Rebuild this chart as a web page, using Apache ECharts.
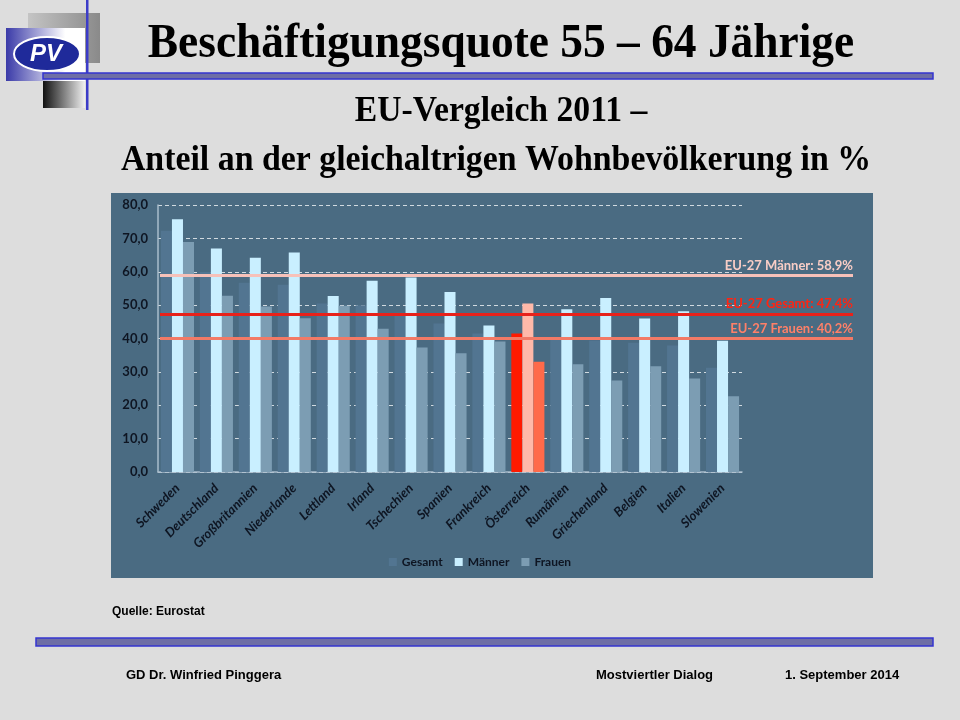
<!DOCTYPE html>
<html>
<head>
<meta charset="utf-8">
<script src="https://cdn.jsdelivr.net/npm/echarts@6/dist/echarts.min.js"></script>
<style>
html,body{margin:0;padding:0;background:#dddddd;}
#c{width:960px;height:720px;}
</style>
</head>
<body>
<div id="c"></div>
<script>
const categories = ['Schweden','Deutschland','Großbritannien','Niederlande','Lettland','Irland','Tschechien','Spanien','Frankreich','Österreich','Rumänien','Griechenland','Belgien','Italien','Slowenien'];
const gesamt = [72.3, 59.9, 56.7, 56.1, 50.5, 50.0, 47.7, 44.5, 41.5, 41.5, 40.0, 39.4, 38.7, 37.9, 31.2];
const maenner = [75.7, 67.0, 64.2, 65.8, 52.7, 57.3, 58.3, 53.9, 43.9, 50.5, 48.8, 52.1, 46.0, 48.2, 39.3];
const frauen = [68.9, 52.8, 49.6, 46.1, 49.8, 42.9, 37.3, 35.6, 39.1, 33.0, 32.3, 27.4, 31.7, 28.0, 22.7];
const euMaenner = 58.9;
const euGesamt = 47.4;
const euFrauen = 40.2;
const yTicks = [0, 10, 20, 30, 40, 50, 60, 70, 80];
const highlight = 'Österreich';

const cGes = '#527591', cMan = '#c9efff', cFra = '#7c9db3';
const hGes = '#ff1a00', hMan = '#ffb9a9', hFra = '#ff6a4a';

function mk(arr, normal, hi) {
  return arr.map((v, i) => categories[i] === highlight ? {value: v, itemStyle: {color: hi}} : {value: v, itemStyle: {color: normal}});
}
const fmt = v => v.toFixed(1).replace('.', ',');

const chart = echarts.init(document.getElementById('c'), null, {renderer: 'canvas'});
const serifF = '"Liberation Serif", "DejaVu Serif", serif';
const sansF = '"Liberation Sans", Arial, sans-serif';
const calF = 'Lato, "Open Sans", sans-serif';

chart.setOption({
  backgroundColor: '#dddddd',
  animation: false,
  graphic: [
    // logo
    {type: 'rect', shape: {x: 28, y: 13, width: 72, height: 50}, style: {fill: new echarts.graphic.LinearGradient(0, 0, 1, 0, [{offset: 0, color: '#c4c4c4'}, {offset: 1, color: '#8a8a8a'}])}, z: 1},
    {type: 'rect', shape: {x: 43, y: 81, width: 42, height: 27}, style: {fill: new echarts.graphic.LinearGradient(0, 0, 1, 0, [{offset: 0, color: '#111111'}, {offset: 1, color: '#f0f0f0'}])}, z: 1},
    {type: 'rect', shape: {x: 6, y: 28, width: 79, height: 53}, style: {fill: new echarts.graphic.LinearGradient(0, 0, 1, 0, [{offset: 0, color: '#3a3aa8'}, {offset: 0.75, color: '#ffffff'}, {offset: 1, color: '#ffffff'}])}, z: 2},
    {type: 'ellipse', shape: {cx: 47, cy: 54, rx: 33, ry: 17}, style: {fill: '#1f2a9a', stroke: '#ffffff', lineWidth: 2}, z: 3},
    {type: 'text', x: 46, y: 54, style: {text: 'PV', fill: '#ffffff', font: 'bold italic 24px ' + sansF, align: 'center', verticalAlign: 'middle', stroke: '#1f2a9a', lineWidth: 1}, z: 4},
    {type: 'rect', shape: {x: 86, y: 0, width: 2.5, height: 110}, style: {fill: '#3c3cc8'}, z: 5},
    {type: 'rect', shape: {x: 43, y: 73, width: 890, height: 6}, style: {fill: '#6e6ea6', stroke: '#3434d0', lineWidth: 1.5}, z: 5},
    // titles
    {type: 'text', x: 501, y: 45, scaleX: 0.946, style: {text: 'Beschäftigungsquote 55 – 64 Jährige', fill: '#000', font: 'bold 48px ' + serifF, align: 'center', verticalAlign: 'middle'}, z: 6},
    {type: 'text', x: 501, y: 112, scaleX: 0.936, style: {text: 'EU-Vergleich 2011 –', fill: '#000', font: 'bold 36px ' + serifF, align: 'center', verticalAlign: 'middle'}, z: 6},
    {type: 'text', x: 496, y: 161, scaleX: 0.94, style: {text: 'Anteil an der gleichaltrigen Wohnbevölkerung in %', fill: '#000', font: 'bold 36px ' + serifF, align: 'center', verticalAlign: 'middle'}, z: 6},
    // chart panel
    {type: 'rect', shape: {x: 111, y: 193, width: 762, height: 385}, style: {fill: '#4a6b82'}, z: -10},
    // source + footer
    {type: 'text', x: 112, y: 612, style: {text: 'Quelle: Eurostat', fill: '#000', font: 'bold 12px ' + sansF, verticalAlign: 'middle'}},
    {type: 'rect', shape: {x: 36, y: 638, width: 897, height: 8}, style: {fill: '#6e6ea6', stroke: '#3434d0', lineWidth: 1.5}},
    {type: 'text', x: 126, y: 675, style: {text: 'GD Dr. Winfried Pinggera', fill: '#000', font: 'bold 13px ' + sansF, verticalAlign: 'middle'}},
    {type: 'text', x: 596, y: 675, style: {text: 'Mostviertler Dialog', fill: '#000', font: 'bold 13px ' + sansF, verticalAlign: 'middle'}},
    {type: 'text', x: 785, y: 675, style: {text: '1. September 2014', fill: '#000', font: 'bold 13px ' + sansF, verticalAlign: 'middle'}}
  ],
  grid: [
    {left: 158, right: 218, top: 205, bottom: 248, containLabel: false},
    {left: 160, right: 107, top: 205, bottom: 248, containLabel: false}
  ],
  legend: {
    data: ['Gesamt', 'Männer', 'Frauen'],
    left: 'center', top: 551,
    icon: 'rect', itemWidth: 8, itemHeight: 8, itemGap: 12,
    textStyle: {color: '#0e1522', fontSize: 12, fontFamily: calF, fontWeight: 'bold'}
  },
  xAxis: [
    {type: 'category', gridIndex: 0, data: categories,
     axisLine: {show: true, lineStyle: {color: '#a8bccb', width: 1.5}},
     axisTick: {show: false},
     axisLabel: {rotate: 45, interval: 0, margin: 14, color: '#0e1522', fontSize: 13, fontStyle: 'italic', fontWeight: 'bold', fontFamily: calF}},
    {type: 'value', gridIndex: 1, min: 0, max: 1, show: false}
  ],
  yAxis: [
    {type: 'value', gridIndex: 0, min: yTicks[0], max: yTicks[yTicks.length - 1], interval: 10,
     axisLine: {show: true, lineStyle: {color: '#a8bccb', width: 1.5}},
     axisTick: {show: false},
     axisLabel: {margin: 10, color: '#0e1522', fontSize: 13, fontWeight: 'bold', fontFamily: calF, formatter: v => fmt(v)},
     splitLine: {show: true, lineStyle: {color: 'rgba(255,255,255,0.75)', type: [4, 3], width: 1}}},
    {type: 'value', gridIndex: 1, min: 0, max: 80, show: false}
  ],
  series: [
    {name: 'Gesamt', type: 'bar', xAxisIndex: 0, yAxisIndex: 0, data: mk(gesamt, cGes, hGes), itemStyle: {color: cGes}, barGap: '0%', barCategoryGap: '15%'},
    {name: 'Männer', type: 'bar', xAxisIndex: 0, yAxisIndex: 0, data: mk(maenner, cMan, hMan), itemStyle: {color: cMan}},
    {name: 'Frauen', type: 'bar', xAxisIndex: 0, yAxisIndex: 0, data: mk(frauen, cFra, hFra), itemStyle: {color: cFra}},
    {name: 'EU', type: 'line', xAxisIndex: 1, yAxisIndex: 1, data: [], silent: true,
     markLine: {
       symbol: 'none', silent: true,
       data: [
         {yAxis: euMaenner, lineStyle: {color: '#f7c1b9', width: 3, type: 'solid'}, label: {show: true, position: 'insideEndTop', formatter: 'EU-27 Männer: ' + fmt(euMaenner) + '%', color: '#f8cdc6', fontSize: 13, fontWeight: 'bold', fontFamily: calF, distance: [0, 3]}},
         {yAxis: euGesamt, lineStyle: {color: '#e8211a', width: 3, type: 'solid'}, label: {show: true, position: 'insideEndTop', formatter: 'EU-27 Gesamt: ' + fmt(euGesamt) + '%', color: '#ff2412', fontSize: 13, fontWeight: 'bold', fontFamily: calF, distance: [0, 3]}},
         {yAxis: euFrauen, lineStyle: {color: '#f27a66', width: 3, type: 'solid'}, label: {show: true, position: 'insideEndTop', formatter: 'EU-27 Frauen: ' + fmt(euFrauen) + '%', color: '#ff8068', fontSize: 13, fontWeight: 'bold', fontFamily: calF, distance: [0, 3]}}
       ]
     }}
  ]
});
</script>
</body>
</html>
